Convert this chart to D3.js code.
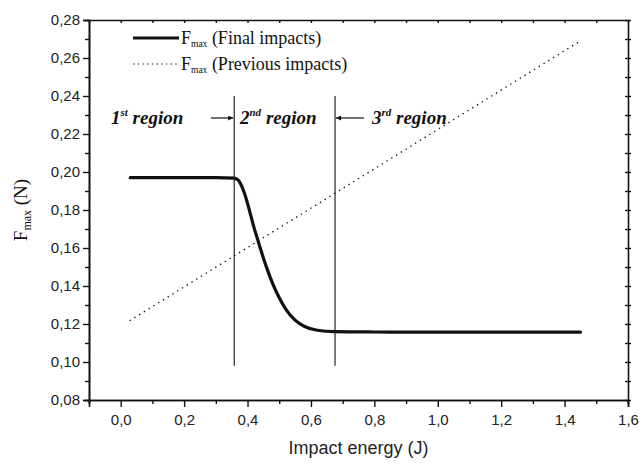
<!DOCTYPE html>
<html lang="en">
<head>
    <meta charset="UTF-8">
    <title>Fmax vs impact energy</title>
    <script src="https://d3js.org/d3.v7.min.js"></script>
    <style>
        body { margin: 0; background: #fff; }
        svg { display: block; }
        .tick text { font-family: 'Liberation Sans', Arial, sans-serif; font-size: 15px; fill: #222; }
        .serif { font-family: 'Liberation Serif', 'Times New Roman', serif; fill: #111; }
    </style>
</head>
<body>
<svg id="chart" width="644" height="468"></svg>
<script>
    // data
    const finalX = [0.03, 0.10, 0.20, 0.30, 0.358, 0.37, 0.38, 0.39, 0.40, 0.41, 0.42, 0.43, 0.44, 0.45, 0.46, 0.48, 0.50, 0.52, 0.55, 0.58, 0.62, 0.676, 0.80, 1.00, 1.20, 1.45];
    const finalY = [0.197, 0.197, 0.197, 0.197, 0.1968, 0.1958, 0.1932, 0.189, 0.1835, 0.1773, 0.171, 0.1655, 0.160, 0.1548, 0.1498, 0.141, 0.1338, 0.1280, 0.1220, 0.1187, 0.1167, 0.1160, 0.1158, 0.1157, 0.1157, 0.1157];
    const prevX = [0.028, 1.446];
    const prevY = [0.1217, 0.2686];
    const regionLines = [0.358, 0.676];
    const regionSpan = [0.098, 0.24];
    const xTicks = [0, 0.2, 0.4, 0.6, 0.8, 1.0, 1.2, 1.4, 1.6];
    const yTicks = [0.08, 0.10, 0.12, 0.14, 0.16, 0.18, 0.20, 0.22, 0.24, 0.26, 0.28];

    const svg = d3.select("#chart");
    const mLeft = 89, mRight = 628, mTop = 20, mBottom = 400;

    const x = d3.scaleLinear().domain([-0.1, 1.6]).range([mLeft, mRight]);
    const y = d3.scaleLinear().domain([0.08, 0.28]).range([mBottom, mTop]);

    const fmt = d => d3.format(".1f")(d).replace(".", ",");
    const fmtY = d => d3.format(".2f")(d).replace(".", ",");

    const xMinor = d3.range(-0.1, 1.61, 0.1).filter(v => Math.abs(Math.round(v * 5) - v * 5) > 0.01);
    const yMinor = d3.range(0.09, 0.28, 0.02);

    // frame axes
    svg.append("g").attr("transform", `translate(0,${mBottom})`)
        .call(d3.axisBottom(x).tickValues(xTicks).tickFormat(fmt).tickSize(7).tickPadding(7));
    svg.append("g").attr("transform", `translate(0,${mBottom})`)
        .call(d3.axisBottom(x).tickValues(xMinor).tickFormat("").tickSize(4));
    svg.append("g").attr("transform", `translate(${mLeft},0)`)
        .call(d3.axisLeft(y).tickValues(yTicks).tickFormat(fmtY).tickSize(6).tickPadding(3));
    svg.append("g").attr("transform", `translate(${mLeft},0)`)
        .call(d3.axisLeft(y).tickValues(yMinor).tickFormat("").tickSize(4));
    svg.append("g").attr("transform", `translate(0,${mTop})`)
        .call(d3.axisBottom(x).tickValues(xTicks.concat(xMinor)).tickFormat("").tickSize(3).tickSizeOuter(0));
    svg.append("g").attr("transform", `translate(${mRight},0)`)
        .call(d3.axisRight(y).tickValues(yTicks.concat(yMinor)).tickFormat("").tickSize(3).tickSizeOuter(0))
        .selectAll(".tick line").attr("x1", -3);

    svg.selectAll(".domain").attr("stroke", "#111").attr("stroke-width", 1.6);
    svg.selectAll(".tick line").attr("stroke", "#111").attr("stroke-width", 1.4);

    // region boundaries
    svg.selectAll(".region").data(regionLines).enter().append("line")
        .attr("class", "region")
        .attr("x1", d => x(d)).attr("x2", d => x(d))
        .attr("y1", y(regionSpan[0])).attr("y2", y(regionSpan[1]))
        .attr("stroke", "#111").attr("stroke-width", 1.1);

    // series
    const prevLine = d3.line().x(d => x(d[0])).y(d => y(d[1]));
    svg.append("path").datum(prevX.map((v, i) => [v, prevY[i]]))
        .attr("d", prevLine).attr("fill", "none").attr("stroke", "#111")
        .attr("stroke-width", 1.3).attr("stroke-dasharray", "1.4,4.2");

    const finalLine = d3.line().x(d => x(d[0])).y(d => y(d[1])).curve(d3.curveMonotoneX);
    svg.append("path").datum(finalX.map((v, i) => [v, finalY[i]]))
        .attr("d", finalLine).attr("fill", "none").attr("stroke", "#111")
        .attr("stroke-width", 3.2).attr("stroke-linecap", "round");

    // legend
    svg.append("line").attr("x1", 133).attr("x2", 179).attr("y1", 38).attr("y2", 38)
        .attr("stroke", "#111").attr("stroke-width", 3.2);
    svg.append("line").attr("x1", 133).attr("x2", 179).attr("y1", 64).attr("y2", 64)
        .attr("stroke", "#111").attr("stroke-width", 1.1).attr("stroke-dasharray", "1.4,3.3");

    function fmaxLabel(g, tx, ty, rest) {
        const t = g.append("text").attr("class", "serif").attr("x", tx).attr("y", ty).attr("font-size", 18);
        t.append("tspan").text("F");
        t.append("tspan").attr("font-size", 9.5).attr("dy", 3).text("max");
        t.append("tspan").attr("dy", -3).text(rest);
        return t;
    }
    fmaxLabel(svg, 181, 44, " (Final impacts)");
    fmaxLabel(svg, 181, 70, " (Previous impacts)");

    // region labels
    const regionText = [
        { x: 111, n: "1", sup: "st" },
        { x: 240, n: "2", sup: "nd" },
        { x: 372, n: "3", sup: "rd" }
    ];
    regionText.forEach(r => {
        const t = svg.append("text").attr("class", "serif").attr("x", r.x).attr("y", 124)
            .attr("font-size", 19).attr("font-weight", "bold").attr("font-style", "italic");
        t.append("tspan").text(r.n);
        t.append("tspan").attr("font-size", 11).attr("dy", -8).text(r.sup);
        t.append("tspan").attr("dy", 8).text(" region");
    });

    svg.append("defs").append("marker").attr("id", "arr")
        .attr("viewBox", "0 0 10 10").attr("refX", 10).attr("refY", 5)
        .attr("markerWidth", 8).attr("markerHeight", 5).attr("orient", "auto")
        .attr("markerUnits", "userSpaceOnUse")
        .append("path").attr("d", "M0,0L10,5L0,10Z").attr("fill", "#111");
    svg.append("line").attr("x1", 211).attr("x2", x(regionLines[0]) - 1).attr("y1", 118).attr("y2", 118)
        .attr("stroke", "#111").attr("stroke-width", 1.2).attr("marker-end", "url(#arr)");
    svg.append("line").attr("x1", 364).attr("x2", x(regionLines[1]) + 1).attr("y1", 118).attr("y2", 118)
        .attr("stroke", "#111").attr("stroke-width", 1.2).attr("marker-end", "url(#arr)");

    // axis titles
    svg.append("text").attr("x", (mLeft + mRight) / 2).attr("y", 454).attr("text-anchor", "middle")
        .attr("font-family", "'Liberation Sans', Arial, sans-serif").attr("font-size", 18).attr("fill", "#222")
        .text("Impact energy (J)");

    const yt = svg.append("text").attr("class", "serif").attr("font-size", 19)
        .attr("transform", `translate(27,${(mTop + mBottom) / 2}) rotate(-90)`).attr("text-anchor", "middle");
    yt.append("tspan").text("F");
    yt.append("tspan").attr("font-size", 12).attr("dy", 4).text("max");
    yt.append("tspan").attr("dy", -4).text(" (N)");
</script>
</body>
</html>
